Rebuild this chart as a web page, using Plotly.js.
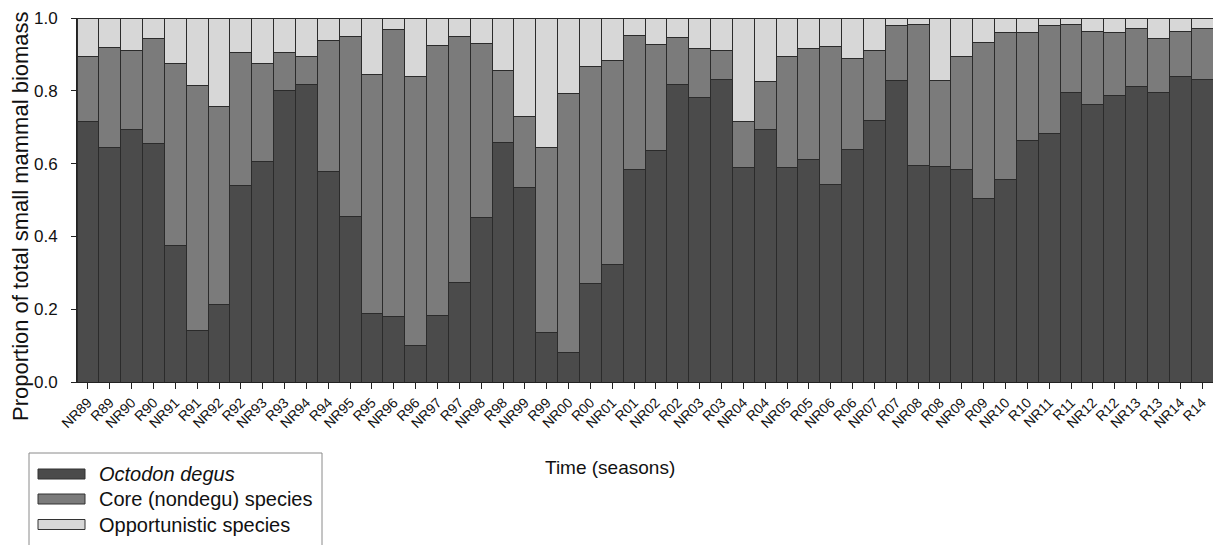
<!DOCTYPE html>
<html>
<head>
<meta charset="utf-8">
<script src="https://cdn.plot.ly/plotly-3.0.1.min.js"></script>
<style>html,body{margin:0;padding:0;background:#fff;}#chart{width:1213px;height:545px;}</style>
</head>
<body>
<div id="chart"></div>
<script>
const seasons = ["NR89","R89","NR90","R90","NR91","R91","NR92","R92","NR93","R93","NR94","R94","NR95","R95","NR96","R96","NR97","R97","NR98","R98","NR99","R99","NR00","R00","NR01","R01","NR02","R02","NR03","R03","NR04","R04","NR05","R05","NR06","R06","NR07","R07","NR08","R08","NR09","R09","NR10","R10","NR11","R11","NR12","R12","NR13","R13","NR14","R14"];
// Octodon degus proportion
const degus = [0.716,0.644,0.695,0.656,0.376,0.142,0.214,0.540,0.606,0.801,0.817,0.577,0.456,0.188,0.181,0.101,0.182,0.272,0.451,0.658,0.534,0.136,0.080,0.270,0.323,0.583,0.636,0.817,0.782,0.832,0.589,0.694,0.589,0.611,0.543,0.638,0.718,0.828,0.595,0.591,0.583,0.504,0.557,0.664,0.684,0.794,0.762,0.788,0.813,0.796,0.839,0.830];
// Core (nondegu) species proportion
const core = [0.178,0.275,0.216,0.289,0.500,0.673,0.543,0.364,0.270,0.105,0.077,0.362,0.494,0.656,0.787,0.737,0.742,0.678,0.478,0.197,0.195,0.508,0.712,0.597,0.561,0.369,0.292,0.129,0.135,0.079,0.127,0.132,0.306,0.306,0.378,0.251,0.194,0.152,0.388,0.237,0.310,0.429,0.404,0.296,0.296,0.189,0.202,0.171,0.158,0.148,0.124,0.141];
// Opportunistic species proportion
const opportunistic = [0.106,0.081,0.089,0.055,0.124,0.185,0.243,0.096,0.124,0.094,0.106,0.061,0.050,0.156,0.032,0.162,0.076,0.050,0.071,0.145,0.271,0.356,0.208,0.133,0.116,0.048,0.072,0.054,0.083,0.089,0.284,0.174,0.105,0.083,0.079,0.111,0.088,0.020,0.017,0.172,0.107,0.067,0.039,0.040,0.020,0.017,0.036,0.041,0.029,0.056,0.037,0.029];
const seriesNames = ['<i>Octodon degus</i>', 'Core (nondegu) species', 'Opportunistic species'];
const seriesColors = ['#4b4b4b', '#7b7b7b', '#d7d7d7'];

const outline = {color: '#2b2b2b', width: 1};
const seriesData = [degus, core, opportunistic];
const traces = seriesData.map((vals, i) => ({
  type:'bar', name:seriesNames[i], x:seasons, y:vals, showlegend:false,
  marker:{color:seriesColors[i], line:outline}
}));

// plot area geometry (pixels) for placing the hand-drawn legend
const W = 1213, H = 545, ML = 77, MR = 0, MT = 18, MB = 163;
const PW = W - ML - MR, PH = H - MT - MB;
const px = v => (v - ML) / PW;
const py = v => (H - MB - v) / PH;

const fontFam = 'Liberation Sans, Arial, sans-serif';
const shapes = [
  {type:'rect', xref:'paper', yref:'paper', x0:px(29), x1:px(322), y0:py(453), y1:py(560),
   line:{color:'#8a8a8a', width:1}, fillcolor:'rgba(0,0,0,0)'}
];
const annotations = [
  {text:'Proportion of total small mammal biomass', xref:'paper', yref:'paper',
   x:px(20), y:py(216), xanchor:'center', yanchor:'middle', textangle:-90, showarrow:false,
   font:{size:22, family:fontFam, color:'#111'}},
  {text:'Time (seasons)', xref:'paper', yref:'paper', x:px(610), y:py(467),
   xanchor:'center', yanchor:'middle', showarrow:false, font:{size:19, family:fontFam, color:'#111'}}
];
const legendY = [474, 499, 524.5];
seriesNames.forEach((nm, i) => {
  shapes.push({type:'rect', xref:'paper', yref:'paper', x0:px(38), x1:px(85),
    y0:py(legendY[i]-5), y1:py(legendY[i]+5), fillcolor:seriesColors[i], line:{color:'#333', width:1}});
  annotations.push({text:nm, xref:'paper', yref:'paper', x:px(97), y:py(legendY[i]),
    xanchor:'left', yanchor:'middle', showarrow:false, font:{size:20, family:fontFam, color:'#111'}});
});

const layout = {
  width:W, height:H,
  margin:{l:ML, r:MR, t:MT, b:MB, pad:0},
  barmode:'stack', bargap:0,
  paper_bgcolor:'#fff', plot_bgcolor:'#fff',
  font:{family:fontFam, color:'#111'},
  showlegend:false,
  xaxis:{type:'category', tickangle:-45, tickfont:{size:14, family:fontFam, color:'#111'},
    showline:true, linecolor:'#222', linewidth:1, ticks:'outside', ticklen:6, tickcolor:'#222',
    showgrid:false, zeroline:false, fixedrange:true},
  yaxis:{range:[0,1], tickvals:[0,0.2,0.4,0.6,0.8,1.0], tickformat:'.1f',
    tickfont:{size:17, family:fontFam, color:'#111'}, ticklabelstandoff:10,
    showline:true, linecolor:'#222', linewidth:1, ticks:'outside', ticklen:5, tickcolor:'#222',
    showgrid:false, zeroline:false, fixedrange:true},
  shapes: shapes,
  annotations: annotations
};
Plotly.newPlot('chart', traces, layout, {displayModeBar:false, staticPlot:true});
</script>
</body>
</html>
